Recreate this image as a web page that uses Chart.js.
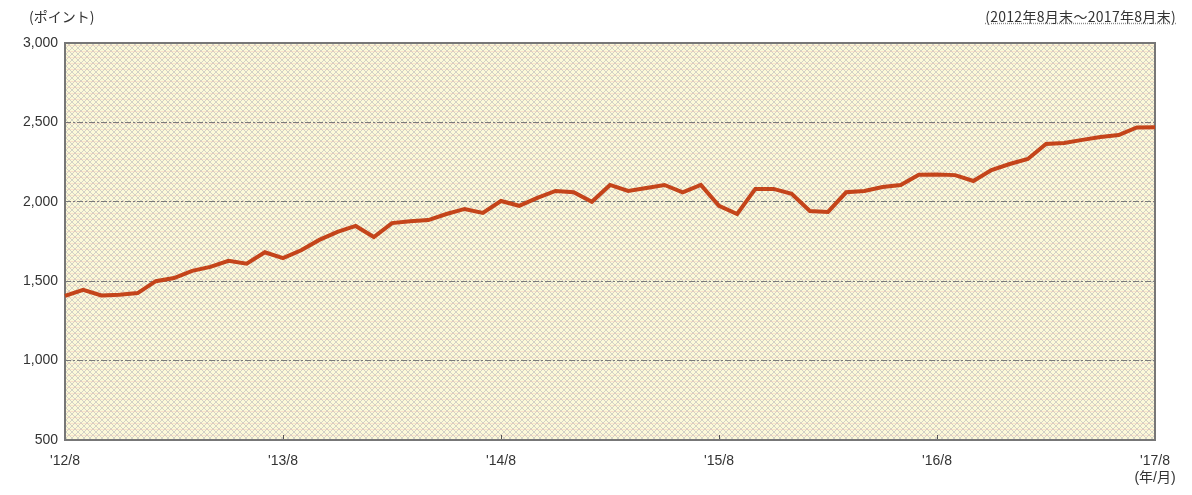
<!DOCTYPE html>
<html lang="ja">
<head>
<meta charset="utf-8">
<script src="https://cdn.jsdelivr.net/npm/chart.js@4/dist/chart.umd.min.js"></script>
<style>
  html, body { margin: 0; padding: 0; background: #fff; }
  .wrap { position: relative; width: 1192px; height: 495px; }
  canvas { position: absolute; left: 0; top: 0; }
  .note { position: absolute; font-family: "Noto Sans CJK JP", "DejaVu Sans", sans-serif; font-size: 14px; color: #333; }
  #unitLabel { left: 29px; top: 6px; }
  #rangeLabel { right: 16px; top: 6px; letter-spacing: 0.3px; text-decoration: underline; text-decoration-style: dotted; text-decoration-color: #888; }
</style>
</head>
<body>
<div class="wrap">
  <canvas id="indexChart" width="1192" height="495"></canvas>
  <div class="note" id="unitLabel">(ポイント)</div>
  <div class="note" id="rangeLabel">(2012年8月末～2017年8月末)</div>
</div>
<script>
/* ── data ───────────────────────────── */
const yearTicks = ["'12/8", "'13/8", "'14/8", "'15/8", "'16/8", ["'17/8", '(年/月)']];
const yTicks = [500, 1000, 1500, 2000, 2500, 3000];

// month-end values, 2012/8 .. 2017/8
const indexValues = [
  1407, 1445, 1410, 1415, 1425, 1500, 1520, 1565, 1590, 1628, 1610, 1682,
  1645, 1695, 1760, 1810, 1848, 1778, 1866, 1878, 1885, 1923, 1955, 1930,
  2005, 1975, 2025, 2068, 2060, 2000, 2106, 2068, 2087, 2106, 2060, 2106,
  1975, 1923, 2081, 2081, 2050, 1942, 1936, 2060, 2068, 2093, 2106, 2170,
  2172, 2168, 2131, 2200, 2238, 2270, 2364, 2370, 2390, 2408, 2420, 2468,
  2470
];

const monthLabels = indexValues.map((_, i) => {
  const m = 8 + i;
  return (2012 + Math.floor((m - 1) / 12)) + '/' + (((m - 1) % 12) + 1);
});

/* ── background hatch pattern ───────── */
function makeHatch() {
  const c = document.createElement('canvas');
  c.width = 6; c.height = 6;
  const g = c.getContext('2d');
  g.fillStyle = '#fcf9d8';
  g.fillRect(0, 0, 6, 6);
  g.fillStyle = '#d3d1c6';
  for (let i = 0; i < 6; i++) {
    g.fillRect(i, i, 1, 1);
    g.fillRect(5 - i, i, 1, 1);
  }
  g.fillStyle = 'rgba(240,190,180,0.35)';
  g.fillRect(0, 3, 6, 1);
  return g.createPattern(c, 'repeat');
}

const plotFrame = {
  id: 'plotFrame',
  beforeDraw(chart) {
    const { ctx, chartArea: a } = chart;
    ctx.save();
    ctx.fillStyle = makeHatch();
    ctx.fillRect(a.left, a.top, a.right - a.left, a.bottom - a.top);
    ctx.restore();
  },
  beforeDatasetsDraw(chart) {
    const { ctx, chartArea: a, scales } = chart;
    ctx.save();
    // small inward ticks at each year
    ctx.strokeStyle = '#555';
    ctx.lineWidth = 1;
    for (let i = 12; i < indexValues.length - 1; i += 12) {
      const x = Math.round(scales.x.getPixelForValue(i)) + 0.5;
      ctx.beginPath();
      ctx.moveTo(x, a.bottom);
      ctx.lineTo(x, a.bottom - 5);
      ctx.stroke();
    }
    ctx.strokeStyle = '#777';
    ctx.lineWidth = 2;
    ctx.strokeRect(a.left, a.top, a.right - a.left, a.bottom - a.top);
    ctx.restore();
  }
};

const ctx = document.getElementById('indexChart').getContext('2d');

new Chart(ctx, {
  type: 'line',
  data: {
    labels: monthLabels,
    datasets: [{
      data: indexValues,
      borderColor: '#c4441a',
      borderWidth: 4,
      pointRadius: 0,
      tension: 0,
      fill: false
    }]
  },
  options: {
    responsive: false,
    animation: false,
    events: [],
    layout: { padding: { top: 43, right: 37, left: 0, bottom: 0 } },
    plugins: { legend: { display: false }, tooltip: { enabled: false } },
    scales: {
      x: {
        type: 'category',
        offset: false,
        afterFit: (s) => { s.height = 55; },
        grid: { display: false, drawTicks: false },
        border: { display: false },
        ticks: {
          autoSkip: false,
          maxRotation: 0,
          padding: 13,
          color: '#333',
          font: { family: "'Liberation Sans', 'Noto Sans CJK JP', sans-serif", size: 14 },
          callback: (v, i) => (i % 12 === 0 ? yearTicks[i / 12] : '')
        }
      },
      y: {
        min: yTicks[0],
        max: yTicks[yTicks.length - 1],
        afterFit: (s) => { s.width = 65; },
        afterBuildTicks: (s) => { s.ticks = yTicks.map(v => ({ value: v })); },
        grid: {
          drawTicks: false,
          color: (c) => (c.tick && (c.tick.value === 500 || c.tick.value === 3000) ? 'rgba(0,0,0,0)' : '#7a7a7a'),
          lineWidth: 1
        },
        border: { display: false, dash: [6, 2, 2, 2] },
        ticks: {
          padding: 7,
          color: '#333',
          font: { family: "'Liberation Sans', sans-serif", size: 14 },
          callback: (v) => v.toLocaleString('en-US')
        }
      }
    }
  },
  plugins: [plotFrame]
});
</script>
</body>
</html>
